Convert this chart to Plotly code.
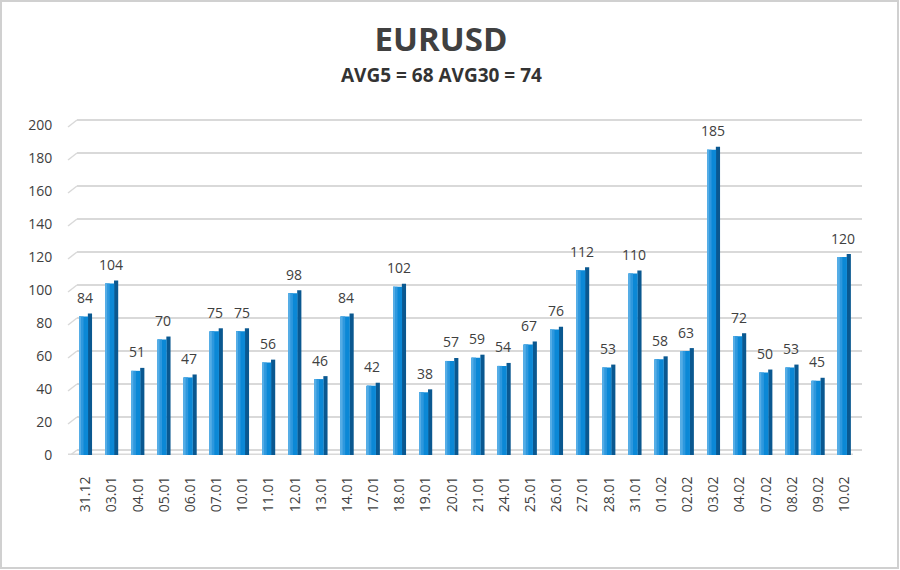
import plotly.graph_objects as go

categories = ["31.12", "03.01", "04.01", "05.01", "06.01", "07.01", "10.01", "11.01",
              "12.01", "13.01", "14.01", "17.01", "18.01", "19.01", "20.01", "21.01",
              "24.01", "25.01", "26.01", "27.01", "28.01", "31.01", "01.02", "02.02",
              "03.02", "04.02", "07.02", "08.02", "09.02", "10.02"]
values = [84, 104, 51, 70, 47, 75, 75, 56, 98, 46, 84, 42, 102, 38, 57, 59, 54, 67,
          76, 112, 53, 110, 58, 63, 185, 72, 50, 53, 45, 120]
y_ticks = [0, 20, 40, 60, 80, 100, 120, 140, 160, 180, 200]

title_text = "EURUSD"
subtitle_text = "AVG5 = 68 AVG30 = 74"

# pixel geometry of the plot area
L, R, T, B = 77, 862, 118, 455
W, H = R - L, B - T
PX_PER_UNIT = 1.65

def px_x(px):
    return (px - L) / W

def px_y(py):
    return (B - py) / H

FONT = "Open Sans"
TXT = "#404040"
GRID = "#d9d9d9"

fig = go.Figure()

# dark side face (slightly higher at the back)
fig.add_trace(go.Bar(
    x=categories, y=[v + 1.8 for v in values], width=0.16, offset=0.085,
    marker=dict(color="#0a5890", line=dict(width=0)), yaxis="y", hoverinfo="skip"))
# front face
fig.add_trace(go.Bar(
    x=categories, y=values, width=0.345, offset=-0.25,
    marker=dict(color="#0b88d6", line=dict(width=0)), yaxis="y", hoverinfo="skip"))
# left highlight strips (gradient imitation)
fig.add_trace(go.Bar(
    x=categories, y=values, width=0.17, offset=-0.25,
    marker=dict(color="#2e98de", line=dict(width=0)), yaxis="y", hoverinfo="skip"))
fig.add_trace(go.Bar(
    x=categories, y=values, width=0.07, offset=-0.25,
    marker=dict(color="#55ade6", line=dict(width=0)), yaxis="y", hoverinfo="skip"))
# invisible trace on the grid axis so it renders
fig.add_trace(go.Scatter(x=[categories[0]], y=[0], yaxis="y2", mode="markers",
                         marker=dict(opacity=0), hoverinfo="skip", showlegend=False))

annotations = []
for i, v in enumerate(values):
    annotations.append(dict(x=i, y=v, xref="x", yref="y", text=str(v), showarrow=False,
                            yshift=19, xshift=-1, yanchor="middle",
                            font=dict(family=FONT, size=14, color=TXT)))
annotations.append(dict(x=px_x(441), y=px_y(75), xref="paper", yref="paper",
                        text="<b>" + subtitle_text + "</b>", showarrow=False,
                        yanchor="middle", xanchor="center",
                        font=dict(family=FONT, size=19, color="#333333")))

shapes = []
# diagonal stubs of the 3D wall
for t in y_ticks:
    shapes.append(dict(type="line", xref="paper", yref="y2", x0=px_x(68), x1=px_x(77),
                       y0=t - 7 / PX_PER_UNIT, y1=t, line=dict(color=GRID, width=1.5),
                       layer="below"))
# floor
shapes.append(dict(type="line", xref="paper", yref="y", x0=px_x(68), x1=px_x(853),
                   y0=0, y1=0, line=dict(color=GRID, width=3), layer="below"))
# outer frame
shapes.append(dict(type="rect", xref="paper", yref="paper", x0=px_x(1), x1=px_x(898),
                   y0=px_y(568), y1=px_y(1), line=dict(color="#d0d0d0", width=2)))

fig.update_layout(
    width=900, height=570,
    margin=dict(l=L, r=900 - R, t=T, b=570 - B, pad=0),
    paper_bgcolor="white", plot_bgcolor="white",
    barmode="overlay", showlegend=False,
    title=dict(text="<b>" + title_text + "</b>", x=441 / 900, xref="container",
               y=1 - 39 / 570, yref="container", xanchor="center", yanchor="middle",
               font=dict(family=FONT, size=33, color="#404040")),
    xaxis=dict(type="category", range=[-0.33, 29.67], tickangle=-90,
               tickfont=dict(family=FONT, size=14, color=TXT),
               ticks="outside", ticklen=15, tickcolor="rgba(0,0,0,0)",
               showgrid=False, zeroline=False, showline=False),
    yaxis=dict(range=[0, H / PX_PER_UNIT], tickvals=y_ticks,
               tickfont=dict(family=FONT, size=14, color=TXT),
               ticks="outside", ticklen=21, tickcolor="rgba(0,0,0,0)",
               showgrid=False, zeroline=False, showline=False),
    yaxis2=dict(range=[-5 / PX_PER_UNIT, -5 / PX_PER_UNIT + H / PX_PER_UNIT],
                overlaying="y", side="left", tickvals=y_ticks, showticklabels=False,
                showgrid=True, gridcolor=GRID, gridwidth=1.5, zeroline=False,
                showline=False),
    annotations=annotations,
    shapes=shapes,
)

fig.write_html("out.html")
